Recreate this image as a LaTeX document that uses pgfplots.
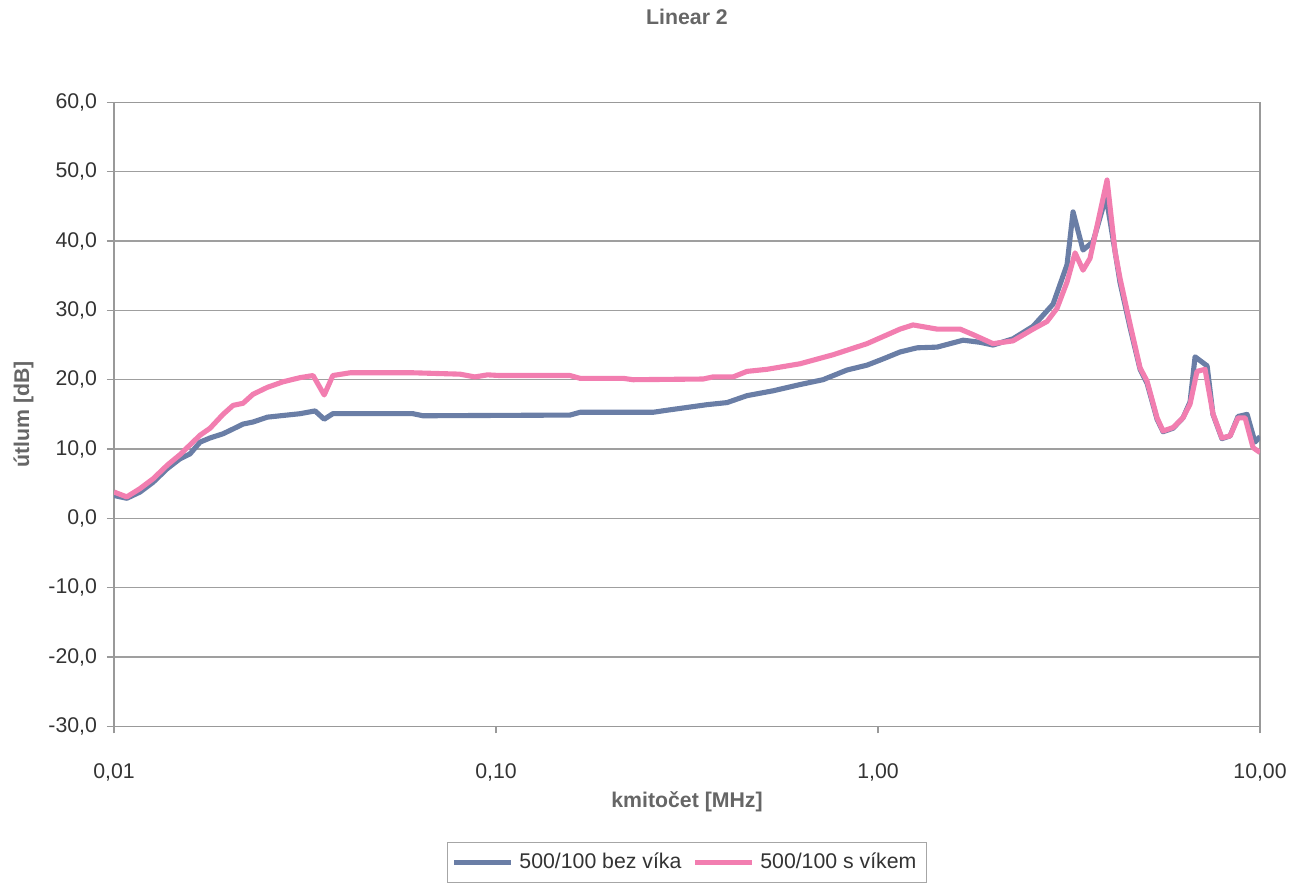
\documentclass[border=0pt]{standalone}
\usepackage{pgfplots}
\pgfplotsset{compat=1.18}
\usepackage{fontspec}
\setmainfont{Liberation Sans}
\definecolor{bluel}{HTML}{6A7EA6}
\definecolor{pinkl}{HTML}{F27EB0}
\definecolor{txt}{HTML}{333333}
\pgfplotstableread{
f v
0.0100 3.3
0.0108 2.9
0.0117 3.8
0.01265 5.2
0.0138 7.2
0.01489 8.6
0.01581 9.3
0.0168 11.0
0.01784 11.6
0.01929 12.2
0.0205 12.9
0.02176 13.6
0.02311 13.9
0.0252 14.6
0.0307 15.1
0.0336 15.5
0.0355 14.3
0.0374 15.1
0.0606 15.1
0.0644 14.8
0.1562 14.9
0.1659 15.3
0.2576 15.3
0.2803 15.6
0.3162 16.0
0.3567 16.4
0.4024 16.7
0.4539 17.7
0.5311 18.4
0.6249 19.3
0.7178 20.0
0.8295 21.4
0.9358 22.1
1.031 23.0
1.142 24.0
1.265 24.6
1.427 24.7
1.670 25.7
1.849 25.4
2.000 25.0
2.256 25.9
2.546 27.7
2.872 30.9
3.125 36.6
3.240 44.2
3.441 38.7
3.655 39.9
3.954 46.4
4.173 38.5
4.301 34.0
4.569 27.5
4.853 21.5
5.061 19.5
5.376 14.3
5.574 12.5
5.920 13.0
6.285 14.5
6.56 16.8
6.76 23.3
7.27 22.0
7.53 15.0
7.95 11.5
8.35 11.9
8.76 14.7
9.25 15.0
9.70 11.0
10.0 11.8
}\bez
\pgfplotstableread{
f v
0.0100 3.8
0.0108 3.1
0.0117 4.3
0.01265 5.7
0.0138 7.7
0.01489 9.2
0.01581 10.6
0.0168 12.0
0.01784 13.0
0.01929 15.0
0.0205 16.3
0.02176 16.6
0.02311 17.9
0.0252 18.9
0.0277 19.7
0.0307 20.3
0.0332 20.6
0.0355 17.8
0.0374 20.6
0.0415 21.0
0.0606 21.0
0.0805 20.8
0.088 20.4
0.095 20.7
0.1024 20.6
0.1562 20.6
0.1659 20.2
0.2150 20.2
0.2284 20.0
0.3482 20.1
0.3698 20.4
0.4174 20.4
0.4539 21.2
0.5122 21.5
0.6249 22.3
0.7627 23.6
0.9358 25.2
1.142 27.3
1.235 27.9
1.427 27.3
1.640 27.3
1.774 26.5
2.000 25.2
2.256 25.6
2.546 27.3
2.770 28.4
2.942 30.3
3.125 34.1
3.280 38.3
3.441 35.8
3.589 37.5
3.978 48.8
4.173 38.5
4.301 34.6
4.569 28.0
4.853 21.7
5.061 19.8
5.376 14.5
5.574 12.6
5.920 13.1
6.285 14.5
6.56 16.5
6.84 21.2
7.18 21.5
7.53 15.1
7.95 11.6
8.35 11.9
8.76 14.5
9.14 14.5
9.59 10.2
10.0 9.5
}\svik
\begin{document}
\begin{tikzpicture}
\begin{axis}[
  name=ax,
  scale only axis,
  width=404pt, height=220pt,
  xmode=log,
  xmin=0.01, xmax=10,
  ymin=-30, ymax=60,
  ytick={-30,-20,...,60},
  xtick={0.01,0.1,1,10},
  xticklabels={{0,01},{0,10},{1,00},{10,00}},
  xminorticks=false,
  /pgf/number format/assume math mode=true,
  yticklabel={\pgfmathprintnumber[fixed,fixed zerofill,precision=1,use comma,assume math mode=true]{\tick}},
  tick label style={font=\fontsize{7.5}{9}\selectfont, text=txt},
  xticklabel style={yshift=-7pt},
  ymajorgrids,
  grid style={draw=gray!75, line width=0.5pt},
  axis line style={draw=gray!80, line width=0.5pt},
  tick style={draw=gray!80, line width=0.5pt},
  tick align=outside,
  major tick length=2.5pt,
  xtick pos=bottom, ytick pos=left,
  title={Linear 2},
  title style={font=\bfseries\fontsize{7.5}{9}\selectfont, text=gray!80!black, at={(0.5,1)}, anchor=center, yshift=24pt},
  xlabel={kmitočet [MHz]},
  xlabel style={font=\bfseries\fontsize{7.5}{9}\selectfont, text=gray!80!black, at={(axis description cs:0.5,0)}, anchor=center, yshift=-26.5pt},
  ylabel={útlum [dB]},
  ylabel style={font=\bfseries\fontsize{7.5}{9}\selectfont, text=gray!80!black, at={(axis description cs:-0.079,0.5)}, anchor=center},
  legend style={at={(0.5,-0.218)}, anchor=center, draw=gray!70, legend columns=2, font=\fontsize{7.5}{9}\selectfont, text=txt, inner sep=1.5pt, /tikz/every even column/.append style={column sep=2pt}},
  legend image code/.code={\draw[#1] (0pt,0pt) -- (20pt,0pt);},
  legend cell align=left,
]
\addplot[bluel, line width=1.8pt, line join=round] table[x=f, y=v] {\bez};
\addlegendentry{500/100 bez víka}
\addplot[pinkl, line width=1.8pt, line join=round] table[x=f, y=v] {\svik};
\addlegendentry{500/100 s víkem}
\end{axis}
\path ([xshift=-40.2pt, yshift=-58.2pt]ax.south west) rectangle ([xshift=15.5pt, yshift=35.3pt]ax.north east);
\end{tikzpicture}
\end{document}
